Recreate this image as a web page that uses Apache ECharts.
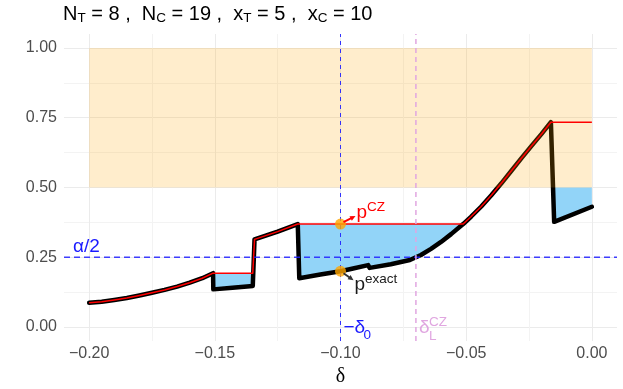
<!DOCTYPE html>
<html>
<head>
<meta charset="utf-8">
<script src="https://cdn.jsdelivr.net/npm/echarts@6/dist/echarts.min.js"></script>
<style>
html,body{margin:0;padding:0;background:#fff;}
#c{width:623px;height:389px;}
</style>
</head>
<body>
<div id="c"></div>
<script>
// ---- data ----
const deltaX = [-0.2, -0.195, -0.19, -0.185, -0.18, -0.175, -0.17, -0.165, -0.16, -0.155, -0.1507,
  -0.1506, -0.143, -0.1349, -0.1342, -0.125, -0.117, -0.1164, -0.108, -0.1, -0.095, -0.089, -0.0884,
  -0.08, -0.0724, -0.068, -0.064, -0.06, -0.056, -0.0512, -0.048, -0.044, -0.04, -0.036, -0.032,
  -0.028, -0.024, -0.02, -0.0163, -0.015, 0];
const pExact = [0.087, 0.091, 0.097, 0.104, 0.113, 0.123, 0.133, 0.145, 0.159, 0.175, 0.193,
  0.135, 0.141, 0.147, 0.314, 0.342, 0.369, 0.175, 0.188, 0.200, 0.210, 0.222, 0.212,
  0.225, 0.240, 0.258, 0.280, 0.305, 0.333, 0.369, 0.396, 0.432, 0.472, 0.515, 0.560,
  0.605, 0.649, 0.692, 0.734, 0.377, 0.431];
const pCZ = [0.087, 0.091, 0.097, 0.104, 0.113, 0.123, 0.133, 0.145, 0.159, 0.175, 0.193,
  0.193, 0.193, 0.193, 0.314, 0.342, 0.369, 0.369, 0.369, 0.369, 0.369, 0.369, 0.369,
  0.369, 0.369, 0.369, 0.369, 0.369, 0.369, 0.369, 0.396, 0.432, 0.472, 0.515, 0.560,
  0.605, 0.649, 0.692, 0.734, 0.734, 0.734];
const bandRect = [-0.2, 0, 0.5, 1];      // orange band: x from, x to, y from, y to
const fillCap = 0.5;                     // blue fill stops at the band
const alphaHalf = 0.25;
const delta0 = -0.1;
const deltaLCZ = -0.07;
const pCZAtDelta0 = 0.369;
const pExactAtDelta0 = 0.200;
const xTicks = [-0.2, -0.15, -0.1, -0.05, 0];
const xGrid = [-0.2, -0.175, -0.15, -0.125, -0.1, -0.075, -0.05, -0.025, 0];
const yTicks = [0, 0.25, 0.5, 0.75, 1];
const yGrid = [0, 0.125, 0.25, 0.375, 0.5, 0.625, 0.75, 0.875, 1];
const xRange = [-0.21, 0.01];
const yRange = [-0.05, 1.05];

// ---- derived tables ----
const exactPts = deltaX.map((x, i) => [x, pExact[i]]);
const czPts = deltaX.map((x, i) => [x, pCZ[i]]);
const fillRows = deltaX.map((x, i) => [x, pExact[i], Math.max(pExact[i], Math.min(pCZ[i], fillCap))]);

const FONT = 'Liberation Sans, Arial, sans-serif';
const chart = echarts.init(document.getElementById('c'), null, {renderer: 'canvas'});

const dashedLine = (pts, color, width, dash, z) => ({
  type: 'line', data: pts, showSymbol: false, silent: true, z: z,
  lineStyle: {color: color, width: width, type: dash}
});

chart.setOption({
  animation: false,
  title: {
    left: 63, top: 3, padding: 0,
    text: '{m|N}{s|T}{m| = 8 ,  N}{s|C}{m| = 19 ,  x}{s|T}{m| = 5 ,  x}{s|C}{m| = 10}',
    textStyle: {
      fontWeight: 'normal',
      rich: {
        m: {fontFamily: FONT, fontSize: 20, fontWeight: 'normal', color: '#000', lineHeight: 22},
        s: {fontFamily: FONT, fontSize: 13.5, fontWeight: 'normal', color: '#000', lineHeight: 13, verticalAlign: 'bottom'}
      }
    }
  },
  grid: {left: 64, right: 6, top: 34, bottom: 48, containLabel: false, outerBoundsMode: 'none'},
  xAxis: {
    type: 'value', min: xRange[0], max: xRange[1],
    axisLine: {show: false},
    axisTick: {show: false, customValues: xGrid},
    axisLabel: {
      customValues: xTicks, margin: 5, color: '#4d4d4d', fontSize: 16, fontFamily: FONT,
      formatter: v => (v < 0 ? '\u2212' : '') + Math.abs(v).toFixed(2)
    },
    splitLine: {show: true, lineStyle: {color: ['#ebebeb', '#f3f3f3'], width: 1}},
    name: 'δ', nameLocation: 'middle', nameGap: 26,
    nameTextStyle: {fontFamily: 'Liberation Serif, DejaVu Serif, serif', fontSize: 20, color: '#000'}
  },
  yAxis: {
    type: 'value', min: yRange[0], max: yRange[1],
    axisLine: {show: false},
    axisTick: {show: false, customValues: yGrid},
    axisLabel: {
      customValues: yTicks, margin: 7, color: '#4d4d4d', fontSize: 16, fontFamily: FONT,
      formatter: v => v.toFixed(2)
    },
    splitLine: {show: true, lineStyle: {color: ['#ebebeb', '#f3f3f3'], width: 1}}
  },
  series: [
    // blue fill between p exact and p CZ (capped at band)
    {type: 'custom', silent: true, z: 2, data: fillRows,
     encode: {x: 0, y: [1, 2]},
     renderItem: function (params, api) {
       if (params.dataIndex !== 0) return null;
       const top = fillRows.map(r => api.coord([r[0], r[2]]));
       const bot = fillRows.map(r => api.coord([r[0], r[1]])).reverse();
       return {type: 'polygon', shape: {points: top.concat(bot)},
               style: {fill: '#92d4f8', stroke: null}};
     }},
    // p exact
    {type: 'line', data: exactPts, showSymbol: false, silent: true, z: 3,
     lineStyle: {color: '#000', width: 4.5, cap: 'round', join: 'round'}},
    // orange band
    {type: 'custom', silent: true, z: 4, data: [bandRect],
     encode: {x: [0, 1], y: [2, 3]},
     renderItem: function (params, api) {
       const a = api.coord([api.value(0), api.value(3)]);
       const b = api.coord([api.value(1), api.value(2)]);
       return {type: 'rect', shape: {x: a[0], y: a[1], width: b[0] - a[0], height: b[1] - a[1]},
               style: {fill: 'rgba(255,165,0,0.2)'}};
     }},
    // p CZ
    {type: 'line', data: czPts, showSymbol: false, silent: true, z: 5,
     lineStyle: {color: '#ff0000', width: 1.5, join: 'round'}},
    dashedLine([[xRange[0], alphaHalf], [xRange[1], alphaHalf]], 'rgba(30,30,255,0.85)', 1.5, [6, 4], 6),
    dashedLine([[delta0, yRange[0]], [delta0, yRange[1]]], 'rgba(30,30,255,0.9)', 1, [4, 4], 6),
    dashedLine([[deltaLCZ, yRange[0]], [deltaLCZ, yRange[1]]], '#e0a6e0', 1.5, [5, 4], 6),
    // points
    {type: 'scatter', data: [[delta0, pCZAtDelta0], [delta0, pExactAtDelta0]], symbolSize: 11,
     silent: true, z: 8, itemStyle: {color: '#ffa500'}}
  ]
});

// annotations anchored to data positions
const pc = chart.convertToPixel({gridIndex: 0}, [delta0, pCZAtDelta0]);
const pe = chart.convertToPixel({gridIndex: 0}, [delta0, pExactAtDelta0]);
const ah = chart.convertToPixel({gridIndex: 0}, [xRange[0], alphaHalf]);
const d0 = chart.convertToPixel({gridIndex: 0}, [delta0, 0]);
const dl = chart.convertToPixel({gridIndex: 0}, [deltaLCZ, 0]);

function arrow(x1, y1, x2, y2, color) {
  const ang = Math.atan2(y2 - y1, x2 - x1), L = 6, W = 0.45;
  return [
    {type: 'line', z: 9, silent: true, shape: {x1: x1, y1: y1, x2: x2 - Math.cos(ang) * 3, y2: y2 - Math.sin(ang) * 3},
     style: {stroke: color, lineWidth: 2}},
    {type: 'polygon', z: 9, silent: true, shape: {points: [[x2, y2],
      [x2 - L * Math.cos(ang - W), y2 - L * Math.sin(ang - W)],
      [x2 - L * Math.cos(ang + W), y2 - L * Math.sin(ang + W)]]}, style: {fill: color}}
  ];
}

const supText = (main, sup, color, x, y) => ({
  type: 'text', z: 10, silent: true, x: x, y: y,
  style: {
    text: '{m|' + main + '}{p|' + sup + '}',
    fill: color, verticalAlign: 'top',
    rich: {
      m: {fontFamily: FONT, fontSize: 19, lineHeight: 26, fill: color},
      p: {fontFamily: FONT, fontSize: 13.5, lineHeight: 14, verticalAlign: 'top', fill: color}
    }
  }
});

const PINK = '#e0a6e0', BLUE = '#1a1aff';
const graphics = []
  .concat(arrow(pc[0] + 3, pc[1] - 2, pc[0] + 15, pc[1] - 8, '#ff0000'))
  .concat(arrow(pe[0] + 3, pe[1] + 2, pe[0] + 13, pe[1] + 9, '#333333'))
  .concat([
    supText('p', 'CZ', '#ff0000', pc[0] + 16, pc[1] - 24),
    supText('p', 'exact', '#1a1a1a', pe[0] + 14, pe[1] + 1),
    {type: 'text', z: 10, silent: true, x: ah[0] + 9, y: ah[1] - 20,
     style: {text: 'α/2', fill: BLUE, font: '19px ' + FONT, verticalAlign: 'top'}},
    {type: 'text', z: 10, silent: true, x: d0[0] + 3, y: d0[1] - 9,
     style: {text: '−δ', fill: BLUE, font: '19px ' + FONT, verticalAlign: 'top'}},
    {type: 'text', z: 10, silent: true, x: d0[0] + 23, y: d0[1] + 1,
     style: {text: '0', fill: BLUE, font: '13.5px ' + FONT, verticalAlign: 'top'}},
    {type: 'text', z: 10, silent: true, x: dl[0] + 3, y: dl[1] - 9,
     style: {text: 'δ', fill: PINK, font: '19px ' + FONT, verticalAlign: 'top'}},
    {type: 'text', z: 10, silent: true, x: dl[0] + 13, y: dl[1] - 12,
     style: {text: 'CZ', fill: PINK, font: '13.5px ' + FONT, verticalAlign: 'top'}},
    {type: 'text', z: 10, silent: true, x: dl[0] + 13, y: dl[1] + 2,
     style: {text: 'L', fill: PINK, font: '13.5px ' + FONT, verticalAlign: 'top'}}
  ]);
chart.setOption({graphic: graphics});
</script>
</body>
</html>
